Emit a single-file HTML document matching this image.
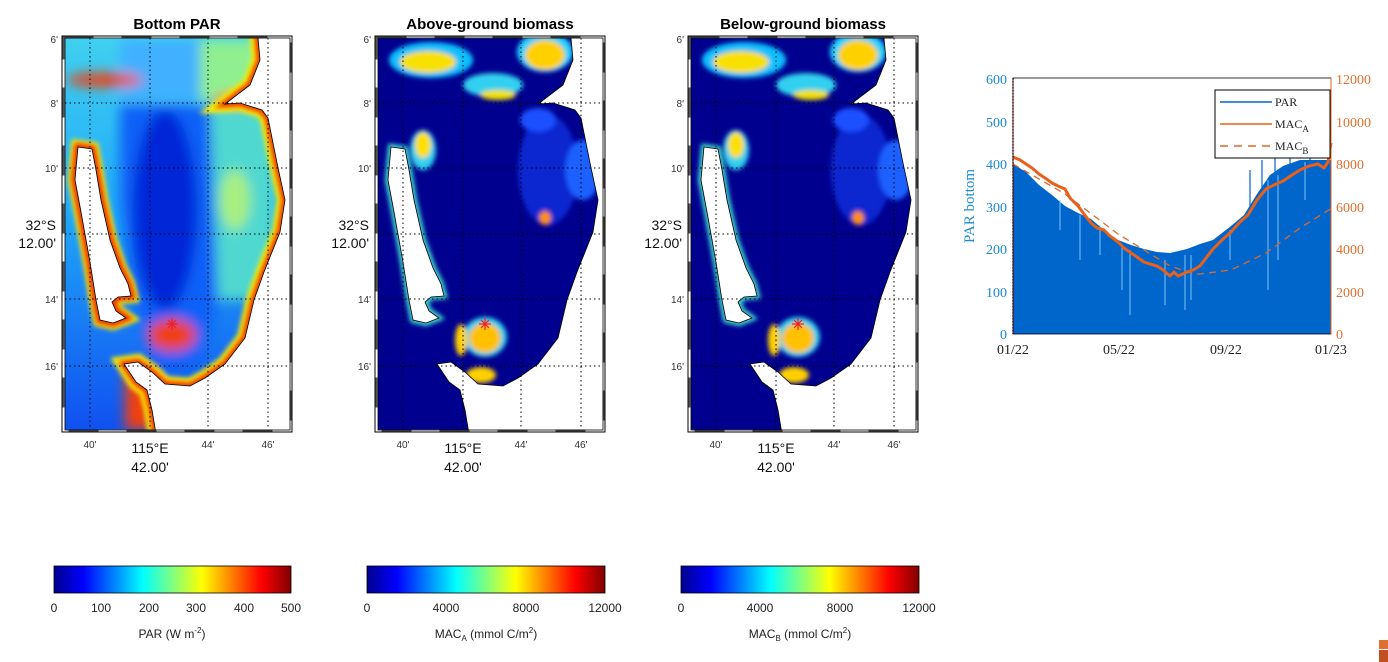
<!DOCTYPE html>
<html><head><meta charset="utf-8"><style>
body{margin:0;background:#fff;}
svg{display:block;font-family:"Liberation Sans",sans-serif;}
</style></head><body>
<svg width="1388" height="662" viewBox="0 0 1388 662" xmlns="http://www.w3.org/2000/svg">
<defs>
<linearGradient id="jet" x1="0" x2="1" y1="0" y2="0">
<stop offset="0" stop-color="#00008f"/><stop offset="0.125" stop-color="#0000ff"/>
<stop offset="0.375" stop-color="#00ffff"/><stop offset="0.625" stop-color="#ffff00"/>
<stop offset="0.875" stop-color="#ff0000"/><stop offset="1" stop-color="#800000"/>
</linearGradient>
<linearGradient id="leftg" x1="0" x2="0" y1="0" y2="1">
<stop offset="0" stop-color="#40d0f0"/><stop offset="0.45" stop-color="#20a8f8"/><stop offset="1" stop-color="#1050f0"/>
</linearGradient>
<filter id="bl" filterUnits="userSpaceOnUse" x="0" y="0" width="1388" height="662"><feGaussianBlur stdDeviation="6"/></filter>
<filter id="bs" filterUnits="userSpaceOnUse" x="0" y="0" width="1388" height="662"><feGaussianBlur stdDeviation="2.5"/></filter>
<clipPath id="c1"><rect x="65" y="38" width="225" height="392"/></clipPath>
<polygon id="island" points="78,147 92,149 96,170 101,200 110,240 120,268 128,284 131,296 118,297 112,302 116,311 126,318 113,323 100,320 96,300 90,262 81,212 75,180"/>
<polygon id="south" points="124,364 138,362 152,372 165,384 190,386 205,378 225,364 245,338 254,300 264,272 280,232 285,200 277,163 268,118 262,110 240,103 225,104 250,85 260,60 258,38 300,38 300,440 157,440 152,410 147,390 136,382"/>
<g id="coast">
<use href="#island" fill="none" stroke="#000" stroke-width="0.8"/>
<use href="#south" fill="none" stroke="#000" stroke-width="0.8"/>
</g>
<g id="grid" stroke="#000" stroke-width="1" stroke-dasharray="1.5,3" fill="none">
<line x1="90" y1="38" x2="90" y2="430"/><line x1="150" y1="38" x2="150" y2="430"/>
<line x1="208" y1="38" x2="208" y2="430"/><line x1="268" y1="38" x2="268" y2="430"/>
<line x1="65" y1="103" x2="290" y2="103"/><line x1="65" y1="168" x2="290" y2="168"/>
<line x1="65" y1="234" x2="290" y2="234"/><line x1="65" y1="299" x2="290" y2="299"/>
<line x1="65" y1="366" x2="290" y2="366"/>
</g>
<g id="star" stroke="#f02020" stroke-width="1.2">
<line x1="172" y1="318" x2="172" y2="330"/><line x1="166" y1="324" x2="178" y2="324"/>
<line x1="168" y1="320" x2="176" y2="328"/><line x1="176" y1="320" x2="168" y2="328"/>
</g>
<g id="frame">
<rect x="62" y="36" width="230" height="396" fill="none" stroke="#000" stroke-width="1"/>
<rect x="63.5" y="37.5" width="227" height="393" fill="none" stroke="#fff" stroke-width="2"/>
<rect x="63.5" y="37.5" width="227" height="393" fill="none" stroke="#555" stroke-width="2" stroke-dasharray="30,28"/>
<rect x="65" y="38" width="225" height="392" fill="none" stroke="#000" stroke-width="0.8"/>
<g font-size="10" fill="#333" text-anchor="end">
<text x="58" y="43">6'</text><text x="58" y="107">8'</text><text x="58" y="172">10'</text>
<text x="58" y="303">14'</text><text x="58" y="370">16'</text>
</g>
<g font-size="14" fill="#111" text-anchor="end"><text x="56" y="230">32°S</text><text x="56" y="248">12.00'</text></g>
<g font-size="10" fill="#333" text-anchor="middle"><text x="90" y="448">40'</text><text x="208" y="448">44'</text><text x="268" y="448">46'</text></g>
<g font-size="14" fill="#111" text-anchor="middle"><text x="150" y="453">115°E</text><text x="150" y="472">42.00'</text></g>
</g>
<g id="bio">
<rect x="65" y="38" width="225" height="392" fill="#00008f"/>
<g filter="url(#bs)">
<ellipse cx="235" cy="170" rx="30" ry="55" fill="#1030e0" opacity="0.8"/>
<ellipse cx="270" cy="170" rx="18" ry="30" fill="#1a60ff"/>
<ellipse cx="225" cy="120" rx="18" ry="12" fill="#1a50ff"/>
<ellipse cx="118" cy="60" rx="42" ry="18" fill="#10c0ff"/>
<ellipse cx="115" cy="62" rx="28" ry="11" fill="#f8e000"/>
<ellipse cx="232" cy="52" rx="28" ry="20" fill="#20d0ff"/>
<ellipse cx="232" cy="55" rx="20" ry="15" fill="#ffd000"/>
<ellipse cx="180" cy="85" rx="30" ry="12" fill="#30d0f0"/>
<ellipse cx="185" cy="95" rx="18" ry="5" fill="#f0e000"/>
<ellipse cx="110" cy="150" rx="13" ry="20" fill="#30d0f0"/>
<ellipse cx="110" cy="145" rx="8" ry="13" fill="#ffe000"/>
<ellipse cx="232" cy="218" rx="6" ry="7" fill="#ff9000"/>
<ellipse cx="172" cy="337" rx="22" ry="20" fill="#30d0f0"/>
<ellipse cx="172" cy="338" rx="16" ry="15" fill="#ffc000"/>
<ellipse cx="168" cy="375" rx="15" ry="8" fill="#ffd000"/>
<ellipse cx="148" cy="340" rx="6" ry="16" fill="#ffd000"/>
</g>
<use href="#island" fill="none" stroke="#40e0d0" stroke-width="6" filter="url(#bs)"/>
<use href="#island" fill="#fff"/>
<use href="#south" fill="#fff"/>
<use href="#coast"/>
<use href="#grid"/>
<use href="#star"/>
</g>
</defs>

<text x="177" y="29" font-size="15" font-weight="bold" text-anchor="middle">Bottom PAR</text>
<g clip-path="url(#c1)">
<rect x="65" y="38" width="225" height="392" fill="url(#leftg)"/>
<g filter="url(#bl)">
<rect x="120" y="40" width="90" height="60" fill="#40b0ff"/>
<rect x="200" y="40" width="60" height="60" fill="#90f090"/>
<rect x="200" y="100" width="75" height="200" fill="#50d8d0"/>
<ellipse cx="235" cy="200" rx="15" ry="30" fill="#a8f080"/>
<polygon points="120,105 210,105 218,300 200,360 175,378 150,365 135,300 120,200" fill="#1060f8"/>
<ellipse cx="165" cy="210" rx="32" ry="100" fill="#0028d8"/>
<ellipse cx="105" cy="80" rx="38" ry="7" fill="#f04010"/>
<ellipse cx="235" cy="100" rx="22" ry="6" fill="#f06020"/>
<ellipse cx="172" cy="335" rx="24" ry="16" fill="#f04010"/>
<rect x="125" y="370" width="28" height="60" fill="#f04010"/>
</g>
<use href="#south" fill="none" stroke="#f8f000" stroke-width="16" filter="url(#bs)"/>
<use href="#island" fill="none" stroke="#f8f000" stroke-width="14" filter="url(#bs)"/>
<use href="#south" fill="none" stroke="#f03800" stroke-width="7" filter="url(#bs)"/>
<use href="#island" fill="none" stroke="#f03800" stroke-width="8" filter="url(#bs)"/>
<use href="#island" fill="#fff"/>
<use href="#south" fill="#fff"/>
<use href="#coast"/>
<use href="#grid"/>
<use href="#star"/>
</g>
<use href="#frame"/>

<text x="490" y="29" font-size="15" font-weight="bold" text-anchor="middle">Above-ground biomass</text>
<g transform="translate(313,0)"><g clip-path="url(#c1)"><use href="#bio"/></g><use href="#frame"/></g>
<text x="803" y="29" font-size="15" font-weight="bold" text-anchor="middle">Below-ground biomass</text>
<g transform="translate(626,0)"><g clip-path="url(#c1)"><use href="#bio"/></g><use href="#frame"/></g>

<g font-size="12" fill="#222" text-anchor="middle">
<rect x="54" y="566" width="237" height="27" fill="url(#jet)" stroke="#000" stroke-width="0.8"/>
<text x="54" y="612">0</text><text x="101" y="612">100</text><text x="149" y="612">200</text><text x="196" y="612">300</text><text x="244" y="612">400</text><text x="291" y="612">500</text>
<text x="172" y="638">PAR (W m<tspan font-size="8" dy="-5">-2</tspan><tspan dy="5">)</tspan></text>
<rect x="367" y="566" width="238" height="27" fill="url(#jet)" stroke="#000" stroke-width="0.8"/>
<text x="367" y="612">0</text><text x="446" y="612">4000</text><text x="526" y="612">8000</text><text x="605" y="612">12000</text>
<text x="486" y="638">MAC<tspan font-size="8" dy="3">A</tspan><tspan dy="-3"> (mmol C/m</tspan><tspan font-size="8" dy="-5">2</tspan><tspan dy="5">)</tspan></text>
<rect x="681" y="566" width="238" height="27" fill="url(#jet)" stroke="#000" stroke-width="0.8"/>
<text x="681" y="612">0</text><text x="760" y="612">4000</text><text x="840" y="612">8000</text><text x="919" y="612">12000</text>
<text x="800" y="638">MAC<tspan font-size="8" dy="3">B</tspan><tspan dy="-3"> (mmol C/m</tspan><tspan font-size="8" dy="-5">2</tspan><tspan dy="5">)</tspan></text>
</g>

<g font-family="Liberation Serif, serif">
<polygon fill="#0066cc" points="1013,334 1013,164 1026,172 1039,185 1052,195 1065,206 1078,213 1091,219 1104,230 1118,240 1131,245 1144,249 1157,252 1170,253 1187,249 1200,244 1213,240 1231,226 1244,215 1257,194 1270,175 1283,166 1300,160 1318,160 1331,160 1331,334"/>
<g stroke="#7cc4f0" stroke-width="1">
<line x1="1130" y1="250" x2="1130" y2="315"/><line x1="1122" y1="245" x2="1122" y2="290"/>
<line x1="1165" y1="260" x2="1165" y2="305"/><line x1="1185" y1="255" x2="1185" y2="310"/>
<line x1="1191" y1="255" x2="1191" y2="300"/><line x1="1080" y1="215" x2="1080" y2="260"/>
<line x1="1268" y1="180" x2="1268" y2="290"/><line x1="1278" y1="175" x2="1278" y2="260"/>
<line x1="1230" y1="230" x2="1230" y2="260"/><line x1="1305" y1="162" x2="1305" y2="200"/>
<line x1="1060" y1="200" x2="1060" y2="230"/><line x1="1100" y1="225" x2="1100" y2="255"/>
</g>
<g stroke="#0066cc" stroke-width="1.2">
<line x1="1250" y1="210" x2="1250" y2="170"/><line x1="1262" y1="190" x2="1262" y2="160"/><line x1="1275" y1="175" x2="1275" y2="158"/><line x1="1290" y1="166" x2="1290" y2="150"/><line x1="1310" y1="160" x2="1310" y2="150"/>
</g>
<polyline fill="none" stroke="#d96a2c" stroke-width="1.3" stroke-dasharray="7,5" points="1013,164 1065,194 1118,234 1170,266 1196,274.5 1231,270 1266,253 1300,228 1331,208.6"/>
<polyline fill="none" stroke="#e8601a" stroke-width="3" stroke-linejoin="round" points="1013,157 1020,160 1026,164 1032,168 1039,174 1045,178 1052,183 1058,186 1065,189 1070,198 1078,206 1084,214 1091,223 1097,228 1104,230 1110,236 1118,242 1124,248 1131,253 1137,257 1144,262 1150,264 1157,266 1163,270 1170,276 1174,272 1178,276 1183,274 1187,272 1193,270 1200,266 1206,258 1213,249 1222,240 1231,232 1240,222 1248,215 1257,200 1266,189 1274,185 1283,181 1292,175 1300,170 1309,166 1318,164 1324,168 1328,162 1331,143"/>
<line x1="1013" y1="78" x2="1013" y2="334" stroke="#d02020" stroke-width="1.5" stroke-dasharray="1.5,1.5"/>
<rect x="1013" y="78" width="318" height="256" fill="none" stroke="#000" stroke-width="0.8"/>
<line x1="1331" y1="78" x2="1331" y2="334" stroke="#e8601a" stroke-width="1"/>
<g font-size="14" fill="#1a8ad0" text-anchor="end">
<text x="1007" y="84">600</text><text x="1007" y="127">500</text><text x="1007" y="169">400</text><text x="1007" y="212">300</text><text x="1007" y="254">200</text><text x="1007" y="297">100</text><text x="1007" y="339">0</text>
</g>
<g font-size="14" fill="#e07030">
<text x="1336" y="84">12000</text><text x="1336" y="127">10000</text><text x="1336" y="169">8000</text><text x="1336" y="212">6000</text><text x="1336" y="254">4000</text><text x="1336" y="297">2000</text><text x="1336" y="339">0</text>
</g>
<text transform="translate(974,206) rotate(-90)" font-size="15" fill="#1a8ad0" text-anchor="middle">PAR bottom</text>
<g font-size="14" fill="#222" text-anchor="middle">
<text x="1013" y="354">01/22</text><text x="1119" y="354">05/22</text><text x="1226" y="354">09/22</text><text x="1331" y="354">01/23</text>
</g>
<rect x="1215" y="90" width="115" height="68" fill="#fff" stroke="#000" stroke-width="1"/>
<line x1="1220" y1="102" x2="1272" y2="102" stroke="#0066cc" stroke-width="1.5"/>
<line x1="1220" y1="124" x2="1272" y2="124" stroke="#e8601a" stroke-width="1.5"/>
<line x1="1220" y1="146" x2="1272" y2="146" stroke="#d96a2c" stroke-width="1.5" stroke-dasharray="8,6"/>
<g font-size="12" fill="#222">
<text x="1275" y="106">PAR</text>
<text x="1275" y="128">MAC<tspan font-size="9" dy="4">A</tspan></text>
<text x="1275" y="150">MAC<tspan font-size="9" dy="4">B</tspan></text>
</g>
</g>
<rect x="1379" y="640" width="9" height="9" fill="#e07030"/>
<rect x="1379" y="650" width="9" height="12" fill="#c05020"/>
</svg>
</body></html>
